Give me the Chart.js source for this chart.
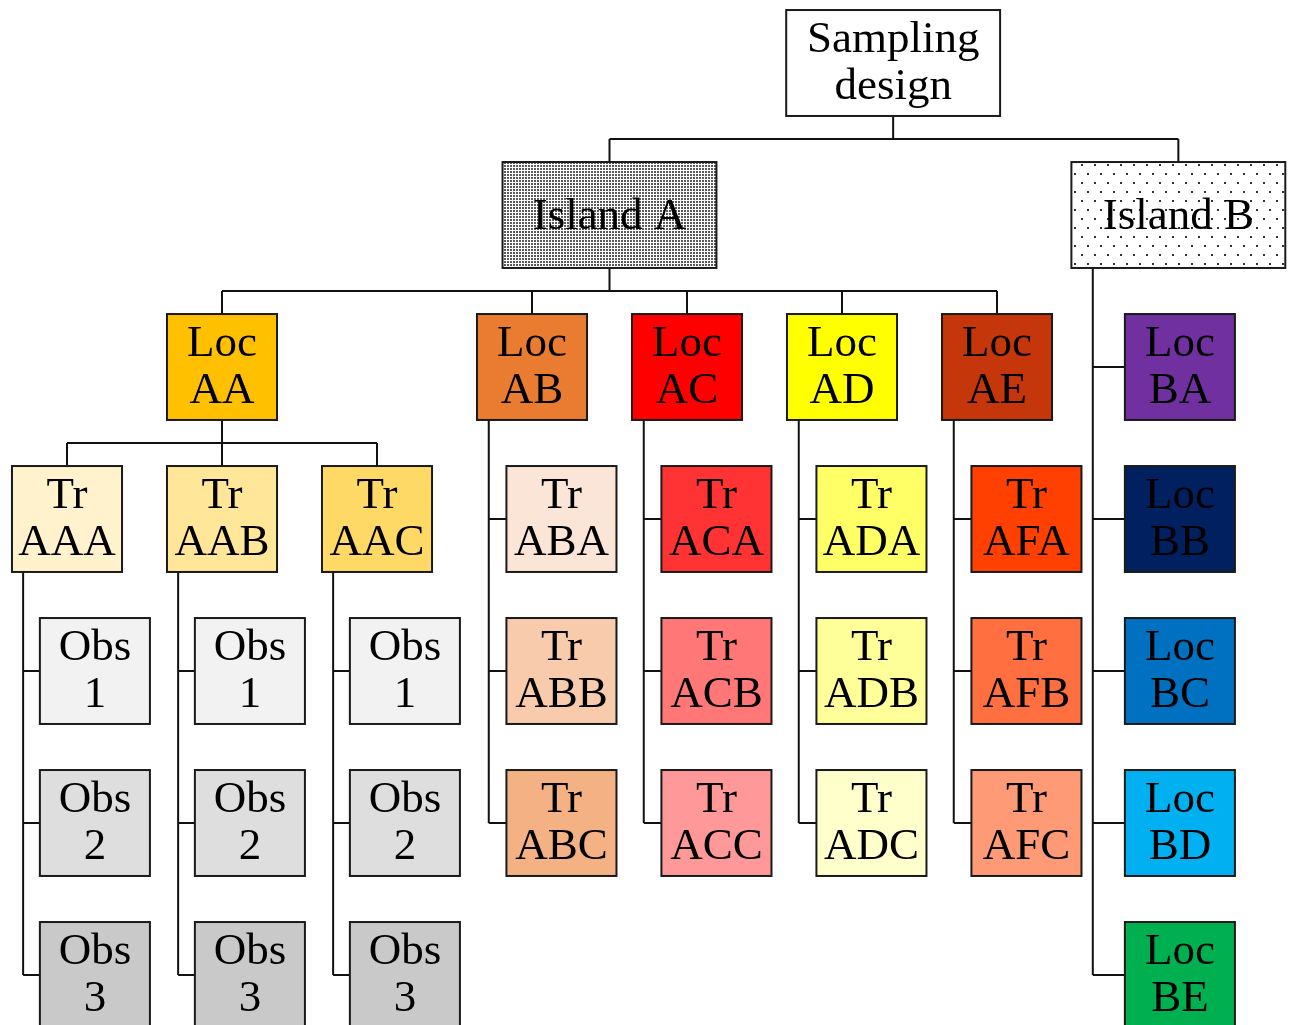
<!DOCTYPE html>
<html>
<head>
<meta charset="utf-8">
<script src="https://cdn.jsdelivr.net/npm/chart.js"></script>
<style>
  html, body { margin: 0; padding: 0; background: #fff; overflow: hidden; }
  canvas { display: block; }
</style>
</head>
<body>
<canvas id="treeChart" width="1291" height="1025"></canvas>
<script>
// Tree nodes: label, grid column, grid row, parent index
const nodeLabels = [
    'Sampling\ndesign', 'Island A', 'Island B',
    'Loc\nAA', 'Loc\nAB', 'Loc\nAC', 'Loc\nAD', 'Loc\nAE',
    'Loc\nBA', 'Loc\nBB', 'Loc\nBC', 'Loc\nBD', 'Loc\nBE',
    'Tr\nAAA', 'Tr\nAAB', 'Tr\nAAC',
    'Obs\n1', 'Obs\n2', 'Obs\n3',
    'Obs\n1', 'Obs\n2', 'Obs\n3',
    'Obs\n1', 'Obs\n2', 'Obs\n3',
    'Tr\nABA', 'Tr\nABB', 'Tr\nABC',
    'Tr\nACA', 'Tr\nACB', 'Tr\nACC',
    'Tr\nADA', 'Tr\nADB', 'Tr\nADC',
    'Tr\nAFA', 'Tr\nAFB', 'Tr\nAFC'
];
const nodeColumns = [
    5.33, 3.5, 7.17,
    1, 3, 4, 5, 6,
    7.18, 7.18, 7.18, 7.18, 7.18,
    0, 1, 2,
    0.18, 0.18, 0.18,
    1.18, 1.18, 1.18,
    2.18, 2.18, 2.18,
    3.19, 3.19, 3.19,
    4.19, 4.19, 4.19,
    5.19, 5.19, 5.19,
    6.19, 6.19, 6.19
];
const nodeRows = [
    0, 1, 1,
    2, 2, 2, 2, 2,
    2, 3, 4, 5, 6,
    3, 3, 3,
    4, 5, 6,
    4, 5, 6,
    4, 5, 6,
    3, 4, 5,
    3, 4, 5,
    3, 4, 5,
    3, 4, 5
];
const nodeParents = [
    -1, 0, 0,
    1, 1, 1, 1, 1,
    2, 2, 2, 2, 2,
    3, 3, 3,
    13, 13, 13,
    14, 14, 14,
    15, 15, 15,
    4, 4, 4,
    5, 5, 5,
    6, 6, 6,
    7, 7, 7
];
const nodeFills = [
    '#ffffff', 'dense', 'sparse',
    '#ffc000', '#e97c30', '#ff0000', '#ffff00', '#c5370a',
    '#7030a0', '#002060', '#0070c0', '#00b0f0', '#00b050',
    '#fff2cc', '#ffe699', '#ffd966',
    '#f2f2f2', '#dedede', '#c9c9c9',
    '#f2f2f2', '#dedede', '#c9c9c9',
    '#f2f2f2', '#dedede', '#c9c9c9',
    '#fbe5d6', '#f8cbad', '#f4b183',
    '#ff3333', '#ff7777', '#ff9999',
    '#ffff66', '#ffff99', '#ffffcc',
    '#ff4000', '#ff6f3f', '#ff9a76'
];

function makePattern(ctx, kind) {
    const tile = document.createElement('canvas');
    const t = tile.getContext('2d');
    if (kind === 'dense') {
        tile.width = 3; tile.height = 3;
        t.fillStyle = '#ffffff';
        t.fillRect(0, 0, 3, 3);
        t.fillStyle = '#5a5a5a';
        t.fillRect(0, 0, 2, 2);
    } else {
        tile.width = 13; tile.height = 18;
        t.fillStyle = '#ffffff';
        t.fillRect(0, 0, 13, 18);
        t.fillStyle = '#333333';
        t.fillRect(2, 2, 2, 2);
        t.fillRect(8, 11, 2, 2);
    }
    return ctx.createPattern(tile, 'repeat');
}

const treePlugin = {
    id: 'treeBoxes',
    afterDatasetsDraw(chart) {
        const ctx = chart.ctx;
        const pts = chart.getDatasetMeta(0).data;
        const xs = chart.scales.x, ys = chart.scales.y;
        const unitW = Math.abs(xs.getPixelForValue(1) - xs.getPixelForValue(0));
        const unitH = Math.abs(ys.getPixelForValue(1) - ys.getPixelForValue(0));

        const box = i => {
            const w = (nodeRows[i] <= 1 ? 1.38 : 0.71) * unitW;
            const h = 0.697 * unitH;
            return { x: pts[i].x - w / 2, y: pts[i].y - h / 2, w: w, h: h, cx: pts[i].x, cy: pts[i].y };
        };

        ctx.save();
        ctx.strokeStyle = '#111111';
        ctx.lineWidth = 2;

        // connectors
        nodeLabels.forEach((_, p) => {
            const kids = [];
            nodeParents.forEach((par, i) => { if (par === p) kids.push(i); });
            if (!kids.length) return;
            const pb = box(p);
            const kb = kids.map(box);
            const sameRow = kids.every(k => nodeRows[k] === nodeRows[kids[0]]);
            ctx.beginPath();
            if (sameRow) {
                const busY = (pb.y + pb.h + kb[0].y) / 2;
                const xsAll = kb.map(b => b.cx).concat([pb.cx]);
                ctx.moveTo(pb.cx, pb.y + pb.h);
                ctx.lineTo(pb.cx, busY);
                ctx.moveTo(Math.min(...xsAll), busY);
                ctx.lineTo(Math.max(...xsAll), busY);
                kb.forEach(b => { ctx.moveTo(b.cx, busY); ctx.lineTo(b.cx, b.y); });
            } else {
                const lineX = pb.x + 0.4 * (kb[0].x - pb.x);
                const lastY = Math.max(...kb.map(b => b.cy));
                ctx.moveTo(lineX, pb.y + pb.h);
                ctx.lineTo(lineX, lastY);
                kb.forEach(b => { ctx.moveTo(lineX, b.cy); ctx.lineTo(b.x, b.cy); });
            }
            ctx.stroke();
        });

        // boxes and labels
        nodeLabels.forEach((label, i) => {
            const b = box(i);
            const fill = nodeFills[i];
            ctx.fillStyle = (fill === 'dense' || fill === 'sparse') ? makePattern(ctx, fill) : fill;
            ctx.fillRect(b.x, b.y, b.w, b.h);
            ctx.strokeStyle = '#1a1a1a';
            ctx.lineWidth = 2;
            ctx.strokeRect(b.x, b.y, b.w, b.h);

            ctx.fillStyle = '#000000';
            ctx.font = '45px "Liberation Serif"';
            ctx.textAlign = 'center';
            ctx.textBaseline = 'alphabetic';
            const lines = label.split('\n');
            if (lines.length === 1) {
                ctx.fillText(lines[0], b.cx, b.cy + 14);
            } else {
                ctx.fillText(lines[0], b.cx, b.cy - 11);
                ctx.fillText(lines[1], b.cx, b.cy + 36);
            }
        });
        ctx.restore();
    }
};

const colStep = 155, colOrigin = 67;
const rowStep = 152, rowOrigin = 63;

new Chart(document.getElementById('treeChart'), {
    type: 'scatter',
    data: {
        datasets: [{
            data: nodeColumns.map((c, i) => ({ x: c, y: nodeRows[i] })),
            pointRadius: 0
        }]
    },
    options: {
        responsive: false,
        animation: false,
        layout: { padding: 0 },
        plugins: { legend: { display: false }, tooltip: { enabled: false } },
        scales: {
            x: { type: 'linear', display: false, min: -colOrigin / colStep, max: (1291 - colOrigin) / colStep },
            y: { type: 'linear', display: false, reverse: true, min: -rowOrigin / rowStep, max: (1025 - rowOrigin) / rowStep }
        }
    },
    plugins: [treePlugin]
});
</script>
</body>
</html>
